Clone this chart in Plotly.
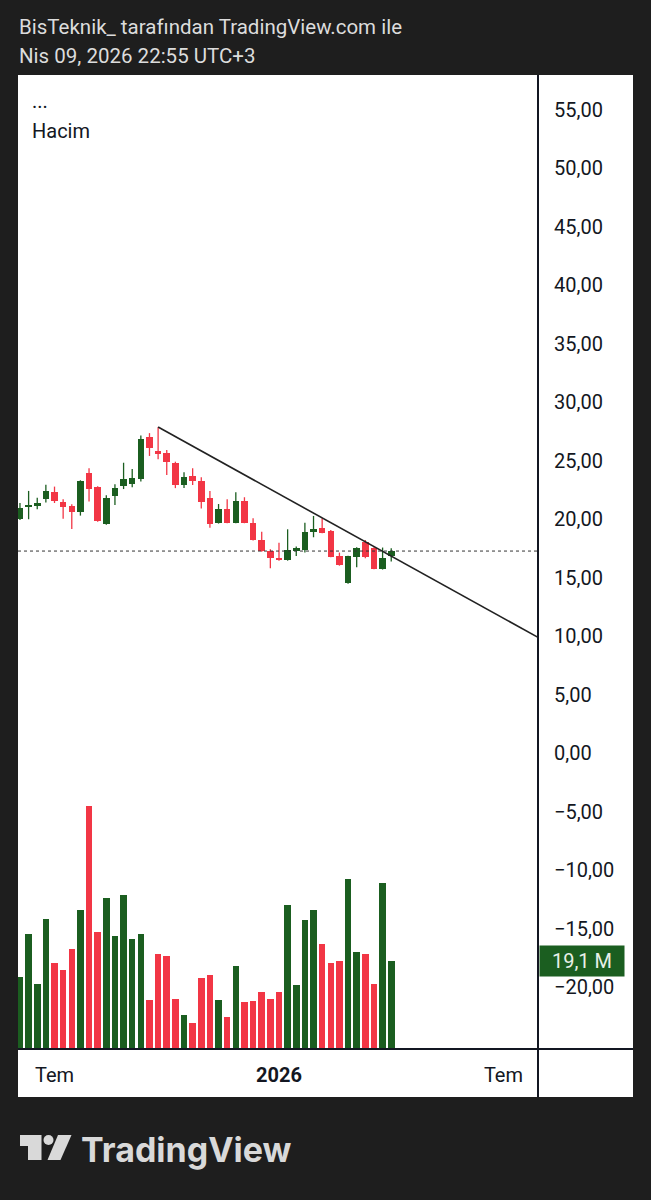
import plotly.graph_objects as go
import pandas as pd

# ---------------- data ----------------
dates = pd.date_range("2025-06-09", periods=44, freq="7D")

opens = [20.02, 21.10, 21.15, 21.75, 22.32, 21.53, 21.15, 20.67, 24.00, 22.81,
         19.62, 22.01, 22.86, 23.07, 23.44, 27.03, 25.85, 25.71, 24.80, 22.95,
         23.72, 23.29, 21.86, 19.73, 20.90, 19.73, 21.58, 19.73, 18.25, 17.31,
         16.74, 16.54, 17.34, 17.39, 18.96, 19.25, 19.02, 16.88, 14.55, 16.77,
         18.10, 17.60, 15.77, 16.90]
highs = [21.40, 22.44, 21.86, 22.97, 22.81, 21.73, 21.30, 23.35, 24.38, 22.85,
         22.07, 23.00, 24.85, 24.32, 27.17, 27.38, 27.88, 25.94, 24.94, 24.03,
         24.38, 23.61, 22.44, 21.32, 21.73, 22.32, 21.90, 20.10, 18.96, 17.46,
         18.02, 19.16, 17.68, 19.73, 20.30, 20.10, 19.10, 17.17, 16.90, 17.63,
         18.25, 17.63, 17.60, 17.54]
lows = [19.96, 20.02, 20.88, 21.44, 21.41, 20.07, 19.19, 20.33, 21.53, 19.80,
        19.55, 21.24, 22.60, 22.76, 23.24, 25.43, 25.15, 23.80, 22.68, 22.70,
        22.95, 20.93, 19.30, 19.65, 19.68, 19.68, 19.68, 18.20, 17.25, 15.84,
        16.48, 16.48, 16.88, 17.17, 18.48, 18.83, 16.78, 16.05, 14.50, 15.92,
        16.68, 15.74, 15.72, 16.40]
closes = [20.96, 21.25, 21.43, 22.46, 21.56, 21.05, 20.67, 23.29, 22.59, 19.91,
          21.81, 22.69, 23.44, 23.58, 26.86, 26.09, 25.57, 24.94, 22.95, 23.62,
          23.32, 21.48, 19.62, 20.92, 19.73, 21.58, 19.73, 18.25, 17.31, 16.68,
          16.54, 17.39, 17.54, 18.91, 19.16, 18.88, 16.82, 16.11, 16.88, 17.60,
          16.82, 15.77, 16.68, 17.30]
volumes_m = [15.7, 25.2, 14.1, 28.5, 18.7, 17.1, 21.7, 30.5, 53.4, 25.6,
             33.0, 24.6, 33.6, 24.0, 25.2, 10.5, 20.6, 20.2, 10.8, 7.2,
             5.4, 15.5, 16.0, 10.6, 6.8, 18.1, 10.2, 10.4, 12.3, 10.9,
             12.3, 31.4, 13.9, 28.1, 30.5, 22.8, 18.8, 19.2, 37.2, 21.1,
             20.8, 14.0, 36.3, 19.1]

trend_start = ("2025-09-29", 27.90)
trend_end = ("2026-08-03", 9.92)

price_ticks = [55, 50, 45, 40, 35, 30, 25, 20, 15, 10, 5, 0, -5, -10, -15, -20]
price_tick_text = ["55,00", "50,00", "45,00", "40,00", "35,00", "30,00", "25,00",
                   "20,00", "15,00", "10,00", "5,00", "0,00", "\u22125,00",
                   "\u221210,00", "\u221215,00", "\u221220,00"]
time_ticks = ["2025-07-07", "2026-01-05", "2026-07-06"]
time_tick_text = ["Tem", "<b>2026</b>", "Tem"]

# ---------------- style ----------------
GREEN = "#1b5e20"
RED = "#f23645"
BG = "#1e1e1e"
INK = "#131722"
FONT = "Roboto"
W, H = 651, 1200


def px(x):
    return x / W


def py(y):
    return 1 - y / H


colors = [GREEN if c >= o else RED for o, c in zip(opens, closes)]
bases = [min(o, c) for o, c in zip(opens, closes)]
bodies = [max(abs(c - o), 0.09) for o, c in zip(opens, closes)]
week_ms = 7 * 24 * 3600 * 1000
bar_w = 0.76 * week_ms

fig = go.Figure()

# volume
fig.add_trace(go.Bar(x=dates, y=volumes_m, yaxis="y2", marker_color=colors,
                     marker_line_width=0, width=bar_w, hoverinfo="skip"))

# wicks
for col in (GREEN, RED):
    xs, ys = [], []
    for d, h, l, c in zip(dates, highs, lows, colors):
        if c == col:
            xs += [d, d, None]
            ys += [l, h, None]
    fig.add_trace(go.Scatter(x=xs, y=ys, mode="lines",
                             line=dict(color=col, width=1.3), hoverinfo="skip"))

# bodies
fig.add_trace(go.Bar(x=dates, y=bodies, base=bases, marker_color=colors,
                     marker_line_width=0, width=bar_w, hoverinfo="skip"))

# trend line
fig.add_trace(go.Scatter(x=[trend_start[0], trend_end[0]],
                         y=[trend_start[1], trend_end[1]], mode="lines",
                         line=dict(color="#222222", width=1.6), hoverinfo="skip"))

x_lo = pd.Timestamp("2025-06-09") - pd.Timedelta(days=1.6)
x_hi = pd.Timestamp("2026-08-03")

shapes = [
    dict(type="rect", xref="paper", yref="paper", x0=px(18), x1=px(633),
         y0=py(1097), y1=py(75), fillcolor="white", line_width=0, layer="below"),
    dict(type="line", xref="paper", yref="paper", x0=px(538), x1=px(538),
         y0=py(1097), y1=py(75), line=dict(color=INK, width=2)),
    dict(type="line", xref="paper", yref="paper", x0=px(18), x1=px(633),
         y0=py(1049), y1=py(1049), line=dict(color=INK, width=2)),
    dict(type="line", xref="paper", yref="y", x0=px(18), x1=px(538),
         y0=closes[-1], y1=closes[-1], line=dict(color="#333333", width=1, dash="dot")),
    # TradingView logo icon
    dict(type="path", xref="paper", yref="paper",
         path=f"M {px(20)} {py(1135)} L {px(41.5)} {py(1135)} L {px(41.5)} {py(1160)} "
              f"L {px(28)} {py(1160)} L {px(28)} {py(1146)} L {px(20)} {py(1146)} Z",
         fillcolor="#d9d9d9", line_width=0),
    dict(type="circle", xref="paper", yref="paper", x0=px(43.5), x1=px(53.5),
         y0=py(1145), y1=py(1135), fillcolor="#d9d9d9", line_width=0),
    dict(type="path", xref="paper", yref="paper",
         path=f"M {px(58)} {py(1135)} L {px(71.5)} {py(1135)} L {px(60.5)} {py(1160)} "
              f"L {px(47.5)} {py(1160)} Z",
         fillcolor="#d9d9d9", line_width=0),
]

annotations = [
    dict(text="BisTeknik_ tarafından TradingView.com ile", x=px(17), y=py(27),
         xref="paper", yref="paper", xanchor="left", yanchor="middle", showarrow=False,
         font=dict(family=FONT, size=20.5, color="#dcdcdc")),
    dict(text="Nis 09, 2026 22:55 UTC+3", x=px(17), y=py(56),
         xref="paper", yref="paper", xanchor="left", yanchor="middle", showarrow=False,
         font=dict(family=FONT, size=20.5, color="#dcdcdc")),
    dict(text="...", x=px(30), y=py(101), xref="paper", yref="paper",
         xanchor="left", yanchor="middle", showarrow=False,
         font=dict(family=FONT, size=20, color=INK)),
    dict(text="Hacim", x=px(30), y=py(131), xref="paper", yref="paper",
         xanchor="left", yanchor="middle", showarrow=False,
         font=dict(family=FONT, size=20, color=INK)),
    dict(text="19,1 M", x=px(539), y=volumes_m[-1], xref="paper", yref="y2",
         xanchor="left", yanchor="middle", showarrow=False, bgcolor=GREEN,
         borderpad=3, width=78, align="center",
         font=dict(family=FONT, size=20, color="#e8f0e8")),
    dict(text="<b>TradingView</b>", x=px(79), y=py(1149), xref="paper", yref="paper",
         xanchor="left", yanchor="middle", showarrow=False,
         font=dict(family="Inter", size=34, color="#d9d9d9")),
]

fig.update_layout(
    width=W, height=H, autosize=False,
    margin=dict(l=0, r=0, t=0, b=0),
    paper_bgcolor=BG, plot_bgcolor="white",
    showlegend=False, barmode="overlay", bargap=0,
    xaxis=dict(type="date", domain=[px(18), px(538)], range=[x_lo, x_hi],
               tickvals=time_ticks, ticktext=time_tick_text, ticks="",
               showgrid=False, zeroline=False, showline=False,
               tickfont=dict(family=FONT, size=20, color=INK),
               ticklabelstandoff=12, anchor="y"),
    yaxis=dict(domain=[py(1049), py(75)], range=[-25.26, 57.99], side="right",
               tickvals=price_ticks, ticktext=price_tick_text, ticks="",
               showgrid=False, zeroline=False, showline=False,
               tickfont=dict(family=FONT, size=20, color=INK),
               ticklabelstandoff=15, anchor="x"),
    yaxis2=dict(overlaying="y", range=[-0.22, 214.3], visible=False,
                showgrid=False, zeroline=False),
    shapes=shapes, annotations=annotations,
)

fig.write_html("out.html")
